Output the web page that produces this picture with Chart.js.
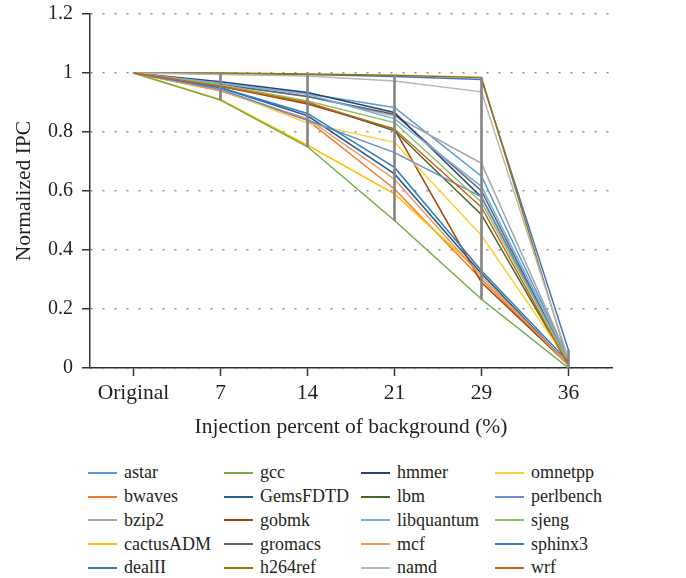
<!DOCTYPE html>
<html>
<head>
<meta charset="utf-8">
<script src="https://cdn.jsdelivr.net/npm/chart.js@4"></script>
<style>
  html, body { margin: 0; padding: 0; background: #fff; overflow: hidden; }
  #wrap { position: relative; width: 686px; height: 578px; overflow: hidden; }
  #box { position: absolute; left: 0; top: -7px; width: 686px; height: 447px; }
  #legend {
    position: absolute; left: 88px; top: 461px;
    display: grid; grid-auto-flow: column;
    grid-template-columns: 136px 137px 134px 160px;
    grid-template-rows: repeat(5, 23.75px);
    font: 18px "Liberation Serif", serif; color: #231f20;
  }
  .item { display: flex; align-items: center; white-space: nowrap; }
  .sw { display: inline-block; width: 29px; height: 2px; margin-right: 7px; }
</style>
</head>
<body>
<div id="wrap">
  <div id="box"><canvas id="c"></canvas></div>
  <div id="legend"></div>
</div>
<script>
// ===== Data =====
const categories = ['Original', '7', '14', '21', '29', '36'];
const yTicks = [0, 0.2, 0.4, 0.6, 0.8, 1, 1.2];

const astar      = [1, 0.965, 0.930, 0.883, 0.650, 0.03];
const bwaves     = [1, 0.940, 0.840, 0.607, 0.300, 0.01];
const bzip2      = [1, 0.960, 0.920, 0.855, 0.694, 0.03];
const cactusADM  = [1, 0.910, 0.755, 0.590, 0.320, 0.01];
const dealII     = [1, 0.998, 0.995, 0.988, 0.978, 0.06];
const gcc        = [1, 0.908, 0.750, 0.500, 0.233, 0.00];
const GemsFDTD   = [1, 0.950, 0.855, 0.658, 0.320, 0.01];
const gobmk      = [1, 0.955, 0.895, 0.810, 0.290, 0.01];
const gromacs    = [1, 0.962, 0.920, 0.860, 0.600, 0.02];
const h264ref    = [1, 1.000, 0.997, 0.992, 0.985, 0.02];
const hmmer      = [1, 0.970, 0.934, 0.866, 0.579, 0.02];
const lbm        = [1, 0.955, 0.900, 0.804, 0.520, 0.01];
const libquantum = [1, 0.965, 0.928, 0.845, 0.615, 0.03];
const mcf        = [1, 0.940, 0.845, 0.640, 0.310, 0.01];
const namd       = [1, 0.995, 0.990, 0.973, 0.936, 0.03];
const omnetpp    = [1, 0.945, 0.830, 0.765, 0.449, 0.02];
const perlbench  = [1, 0.945, 0.840, 0.730, 0.580, 0.02];
const sjeng      = [1, 0.960, 0.905, 0.832, 0.562, 0.02];
const sphinx3    = [1, 0.950, 0.863, 0.680, 0.330, 0.02];
const wrf        = [1, 0.955, 0.900, 0.810, 0.545, 0.01];

const series = [
  ['astar', astar, '#5B9BD5'], ['bwaves', bwaves, '#ED7D31'],
  ['bzip2', bzip2, '#A5A5A5'], ['cactusADM', cactusADM, '#FFC000'],
  ['dealII', dealII, '#4472C4'], ['gcc', gcc, '#70AD47'],
  ['GemsFDTD', GemsFDTD, '#255E91'], ['gobmk', gobmk, '#9E480E'],
  ['gromacs', gromacs, '#636363'], ['h264ref', h264ref, '#997300'],
  ['hmmer', hmmer, '#264478'], ['lbm', lbm, '#43682B'],
  ['libquantum', libquantum, '#7CAFDD'], ['mcf', mcf, '#F1975A'],
  ['namd', namd, '#B7B7B7'], ['omnetpp', omnetpp, '#FFCD33'],
  ['perlbench', perlbench, '#698ED0'], ['sjeng', sjeng, '#8CC168'],
  ['sphinx3', sphinx3, '#327DC2'], ['wrf', wrf, '#D26012']
];

// high-low lines: min..max of all series at each category
const hiLo = categories.map((_, i) => {
  const vals = series.map(s => s[1][i]);
  return [Math.min(...vals), Math.max(...vals)];
});

const FONT = '"Liberation Serif", serif';
const INK = '#231f20';

const lineSets = series.map(([name, data, color]) => ({
  type: 'line', label: name, data, borderColor: color, backgroundColor: color,
  borderWidth: 1.5, pointRadius: 0, tension: 0, order: 1
}));

new Chart(document.getElementById('c'), {
  type: 'line',
  data: {
    labels: categories,
    datasets: [
      { type: 'bar', label: 'hilo', data: hiLo, backgroundColor: '#858585',
        barThickness: 2, order: 0 },
      ...lineSets.reverse()
    ]
  },
  options: {
    responsive: true, maintainAspectRatio: false, animation: false,
    layout: { padding: { top: 0, right: 74, left: 0, bottom: 0 } },
    plugins: { legend: { display: false }, tooltip: { enabled: false } },
    scales: {
      x: {
        offset: true,
        grid: { drawOnChartArea: false, offset: false, tickLength: 8, tickColor: '#333', tickWidth: 1.5 },
        border: { color: '#333', width: 1.5 },
        ticks: { color: INK, font: { family: FONT, size: 21.5 }, padding: 4, maxRotation: 0 },
        title: { display: true, text: 'Injection percent of background (%)', color: INK,
                 font: { family: FONT, size: 21.5 }, padding: { top: 2, bottom: 0 } },
        afterFit: s => { s.height = 72; }
      },
      y: {
        min: 0, max: 1.2,
        afterBuildTicks: s => { s.ticks = yTicks.map(v => ({ value: v })); },
        grid: { color: '#8a8a8a', lineWidth: 1.5, tickLength: 8, tickColor: '#333' },
        border: { color: '#333', width: 1.5, dash: [2, 10] },
        ticks: { color: INK, font: { family: FONT, size: 20 }, padding: 9,
                 callback: v => String(Math.round(v * 10) / 10) },
        title: { display: true, text: 'Normalized IPC', color: INK,
                 font: { family: FONT, size: 21.5 }, padding: { top: 11, bottom: 0 } },
        afterFit: s => { s.width = 90; }
      }
    }
  }
});

// legend, column-major like the original
const lg = document.getElementById('legend');
series.forEach(([name, , color]) => {
  const d = document.createElement('div');
  d.className = 'item';
  d.innerHTML = `<span class="sw" style="background:${color}"></span>${name}`;
  lg.appendChild(d);
});
</script>
</body>
</html>
